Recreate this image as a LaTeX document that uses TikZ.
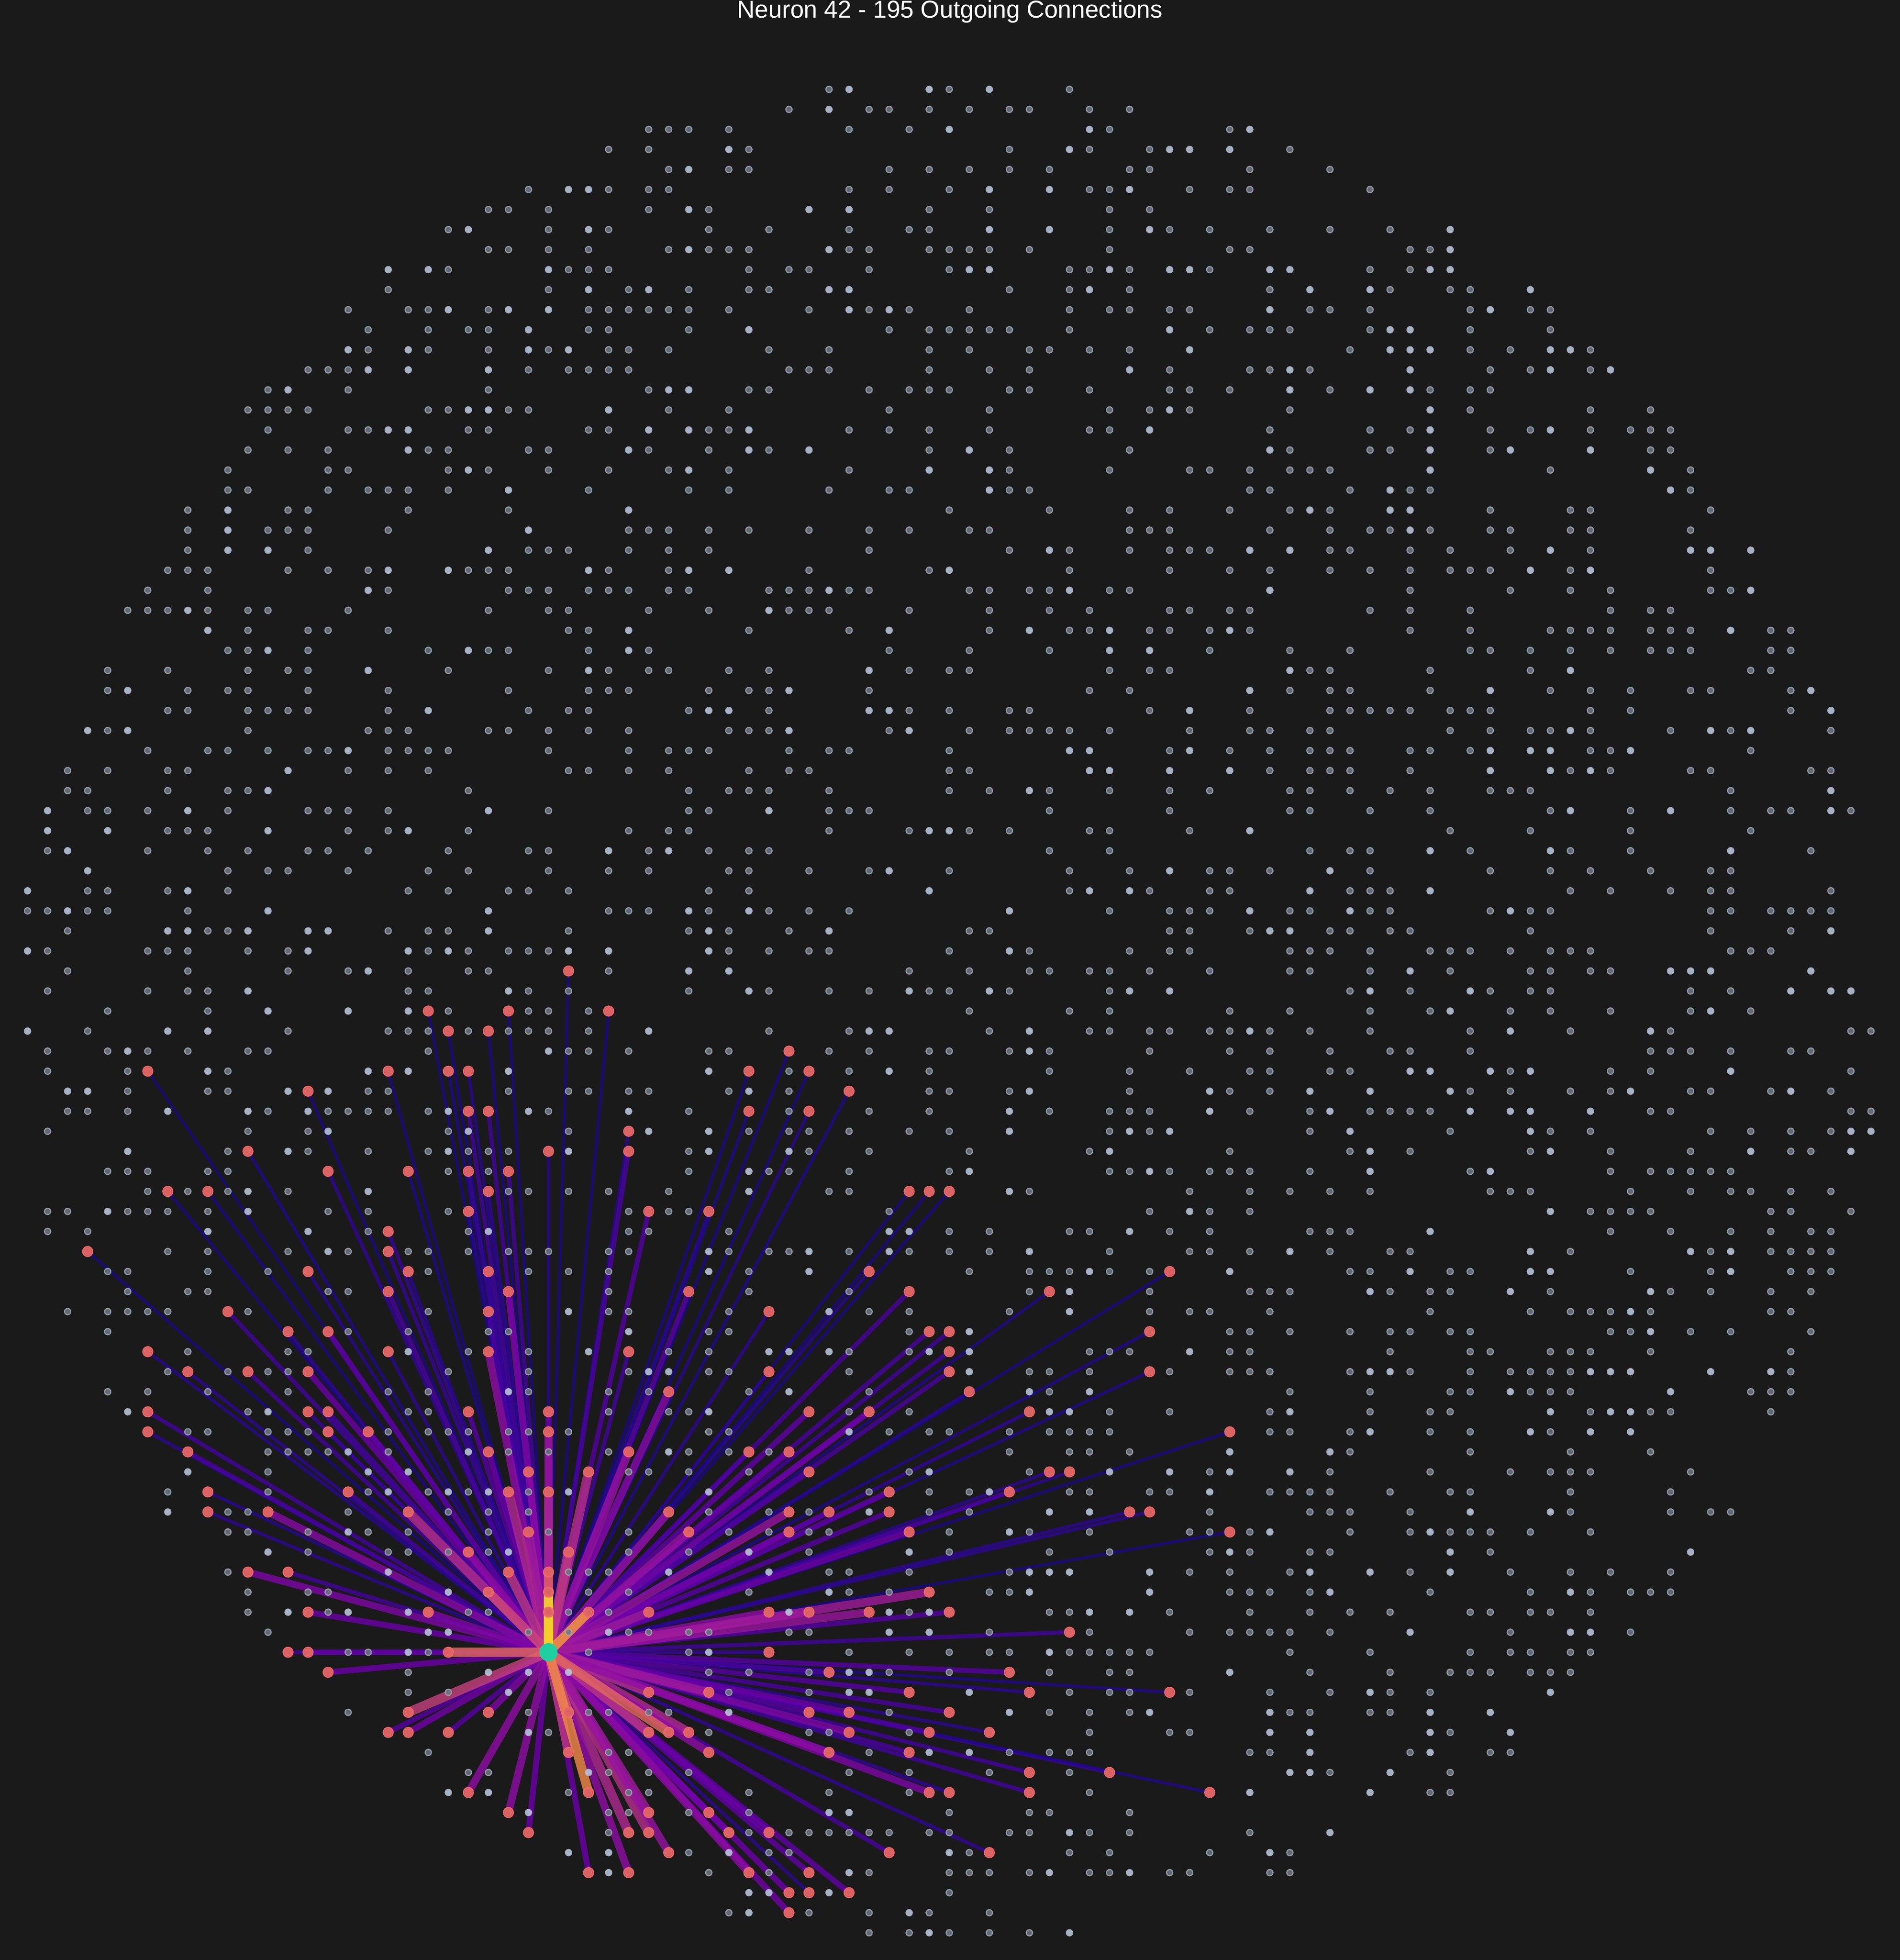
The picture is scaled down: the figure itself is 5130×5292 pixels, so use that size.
\documentclass[tikz,border=0pt]{standalone}
\usepackage{fontspec}
\setmainfont{Liberation Sans}
\definecolor{bg}{HTML}{1A1A1A}
\definecolor{p0}{HTML}{0D0887}
\definecolor{p1}{HTML}{41049D}
\definecolor{p2}{HTML}{6A00A8}
\definecolor{p3}{HTML}{8F0DA4}
\definecolor{p4}{HTML}{B12A90}
\definecolor{p5}{HTML}{CC4778}
\definecolor{p6}{HTML}{E16462}
\definecolor{p7}{HTML}{F2844B}
\definecolor{p8}{HTML}{FCA636}
\definecolor{p9}{HTML}{FCCE25}
\definecolor{p10}{HTML}{F0F921}
\definecolor{dkfill}{HTML}{6F7783}
\definecolor{dkrim}{HTML}{A0A8B4}
\definecolor{ltfill}{HTML}{BECDE1}
\definecolor{ltrim}{HTML}{ACB8C9}
\definecolor{rdfill}{HTML}{E8605F}
\definecolor{rdrim}{HTML}{F26B6B}
\definecolor{teal1}{HTML}{1ED0A0}
\tikzset{
  edge/.style={draw opacity=0.8, line cap=butt},
  darkdot/.style={fill=dkfill, draw=dkrim, line width=0.6pt, opacity=0.85},
  lightdot/.style={fill=ltfill, draw=ltrim, line width=0.6pt, opacity=0.85},
  target/.style={fill=rdfill, draw=rdrim, line width=0.6pt, fill opacity=0.88, draw opacity=0.95},
  srcdot/.style={fill=teal1},
  titletext/.style={anchor=base, text=white, inner sep=0pt, font=\fontsize{13.2pt}{15pt}\selectfont}
}
\def\targets{1/20/46/0.03, 2/21/47/0.03, 3/6/49/0.02, 4/18/49/0.03, 5/21/49/0.04, 6/22/49/0.05, 7/14/50/0.03, 8/22/51/0.1, 9/11/53/0.04, 10/15/54/0.07, 11/19/54/0.04, 12/22/54/0.08, 13/7/55/0.03, 14/9/55/0.03, 15/22/56/0.05, 16/18/57/0.08, 17/3/58/0.03, 18/18/58/0.08, 19/14/59/0.05, 20/19/59/0.05,
21/27/44/0.03, 22/24/46/0.03, 23/29/46/0.03, 24/23/47/0.03, 25/38/48/0.03, 26/36/49/0.03, 27/39/49/0.03, 28/41/50/0.04, 29/23/51/0.1, 30/36/51/0.04, 31/39/51/0.05, 32/30/52/0.06, 33/26/53/0.05, 34/30/53/0.12, 35/24/54/0.1, 36/23/55/0.06, 37/31/56/0.14, 38/34/56/0.05, 39/23/59/0.08, 40/42/59/0.05,
41/44/55/0.03, 42/45/55/0.03, 43/46/55/0.03, 44/57/59/0.03,
45/18/60/0.12, 46/10/61/0.1, 47/13/62/0.06, 48/15/62/0.18, 49/6/63/0.05, 50/18/63/0.06, 51/8/64/0.06, 52/11/64/0.1, 53/14/64/0.2, 54/6/66/0.1, 55/14/66/0.08, 56/15/66/0.1, 57/22/66/0.15, 58/6/67/0.06, 59/15/67/0.08, 60/17/67/0.2, 61/8/68/0.12, 62/9/70/0.05, 63/16/70/0.1, 64/9/71/0.06, 65/12/71/0.28, 66/19/71/0.42, 67/22/73/0.3, 68/11/74/0.25, 69/13/74/0.1, 70/14/76/0.2, 71/20/76/0.25,
72/24/60/0.25, 73/33/60/0.15, 74/23/61/0.12, 75/37/61/0.06, 76/23/63/0.3, 77/30/63/0.1, 78/37/64/0.06, 79/32/65/0.28, 80/26/66/0.2, 81/39/66/0.18, 82/42/66/0.22, 83/26/67/0.33, 84/23/68/0.2, 85/30/68/0.32, 86/36/68/0.15, 87/38/68/0.2, 88/25/69/0.28, 89/28/69/0.42, 90/39/69/0.15, 91/24/70/0.4, 92/26/70/0.38, 93/43/70/0.18, 94/32/71/0.32, 95/38/71/0.32, 96/40/71/0.18, 97/43/71/0.15, 98/25/72/0.35, 99/33/72/0.32, 100/38/72/0.22, 101/27/73/0.45, 102/24/74/0.45, 103/26/74/0.6, 104/23/75/0.5, 105/26/75/0.95, 106/26/76/0.7, 107/28/76/0.78, 108/31/76/0.35, 109/37/76/0.3, 110/39/76/0.3, 111/42/76/0.33,
112/44/60/0.12, 113/51/60/0.04, 114/45/62/0.12, 115/46/62/0.1, 116/56/62/0.04, 117/46/63/0.1, 118/46/64/0.12, 119/56/64/0.04, 120/47/65/0.05, 121/50/66/0.07, 122/60/67/0.03, 123/51/69/0.06, 124/52/69/0.06, 125/49/70/0.12, 126/55/71/0.06, 127/56/71/0.06, 128/44/72/0.2, 129/60/72/0.03, 130/45/75/0.35, 131/46/76/0.15,
132/13/78/0.1, 133/14/78/0.18, 134/21/78/0.62, 135/15/79/0.2, 136/19/81/0.48, 137/18/82/0.15, 138/19/82/0.22, 139/21/82/0.15, 140/22/85/0.3,
141/37/78/0.08, 142/40/79/0.12, 143/31/80/0.42, 144/34/80/0.35, 145/23/81/0.25, 146/27/81/0.55, 147/39/81/0.15, 148/41/81/0.2, 149/31/82/0.45, 150/32/82/0.62, 151/33/82/0.4, 152/41/82/0.25, 153/27/83/0.45, 154/34/83/0.3, 155/40/83/0.3, 156/28/85/0.72, 157/24/86/0.3, 158/31/86/0.35, 159/34/86/0.25, 160/25/87/0.2, 161/30/87/0.4, 162/31/87/0.42, 163/35/87/0.25, 164/37/87/0.2, 165/32/88/0.32, 166/43/88/0.12, 167/28/89/0.2, 168/30/89/0.3, 169/36/89/0.3, 170/39/89/0.18, 171/38/90/0.2, 172/39/90/0.06, 173/41/90/0.18, 174/38/91/0.22,
175/52/77/0.1, 176/49/79/0.15, 177/44/80/0.15, 178/50/80/0.06, 179/57/80/0.04, 180/46/81/0.12, 181/45/82/0.14, 182/48/82/0.06, 183/44/83/0.12, 184/50/84/0.1, 185/54/84/0.08, 186/45/85/0.25, 187/46/85/0.07, 188/50/85/0.1, 189/59/85/0.04, 190/48/88/0.07}
\begin{document}
\begin{tikzpicture}[x=0.2pt,y=-0.2pt]
\useasboundingbox (0,0) rectangle (5130,5292);
\fill[bg] (0,0) rectangle (5130,5292);
\node[titletext] (title) at (2565,48) {Neuron 42 - 195 Outgoing Connections};
% source and targets
\coordinate (src) at (1481,4461);
\foreach \n/\i/\j/\w in \targets {
  \coordinate (t\n) at ({74.4+54.1*\i},{241.2+54.1*\j});
}
% connections, weakest first
\foreach \lo/\hi in {0/0.1,0.1/0.2,0.2/0.3,0.3/0.45,0.45/0.6,0.6/0.8,0.8/1.1}{
  \foreach \n/\i/\j/\w in \targets {
    \ifdim\w pt<\hi pt
      \ifdim\w pt<\lo pt\relax\else
        \pgfmathtruncatemacro\k{min(9,floor(\w*10))}
        \pgfmathtruncatemacro\kk{\k+1}
        \pgfmathtruncatemacro\pc{max(0,min(100,(\w*10-\k)*100))}
        \pgfmathsetmacro\lw{0.2*(5+20*pow(min(1,\w/0.4),0.85))}
        \colorlet{lc}{p\kk!\pc!p\k}
        \draw[edge, line width=\lw pt, draw=lc] (src) -- (t\n);
      \fi
    \fi
  }
}
% background neurons
\pgfmathsetseed{4242}
\foreach \j in {0,...,92}{
  \pgfmathsetmacro\h{sqrt(max(0,2162-(\j-46)*(\j-46)))}
  \pgfmathtruncatemacro\ia{ceil(46-\h)}
  \pgfmathtruncatemacro\ib{floor(46+\h)}
  \foreach \i in {\ia,...,\ib}{
    \pgfmathsetmacro\u{rnd}
    \ifdim\u pt<0.36pt
      \pgfmathsetmacro\v{rnd}
      \ifdim\v pt<0.24pt
        \fill[lightdot] ({74.4+54.1*\i},{241.2+54.1*\j}) circle[radius=1.7pt];
      \else
        \fill[darkdot] ({74.4+54.1*\i},{241.2+54.1*\j}) circle[radius=1.7pt];
      \fi
    \fi
  }
}
% target neurons
\foreach \n/\i/\j/\w in \targets {
  \fill[darkdot] (t\n) circle[radius=1.7pt];
  \fill[target] (t\n) circle[radius=2.7pt];
}
% source neuron
\fill[srcdot] (src) circle[radius=4.9pt];
\end{tikzpicture}
\end{document}
